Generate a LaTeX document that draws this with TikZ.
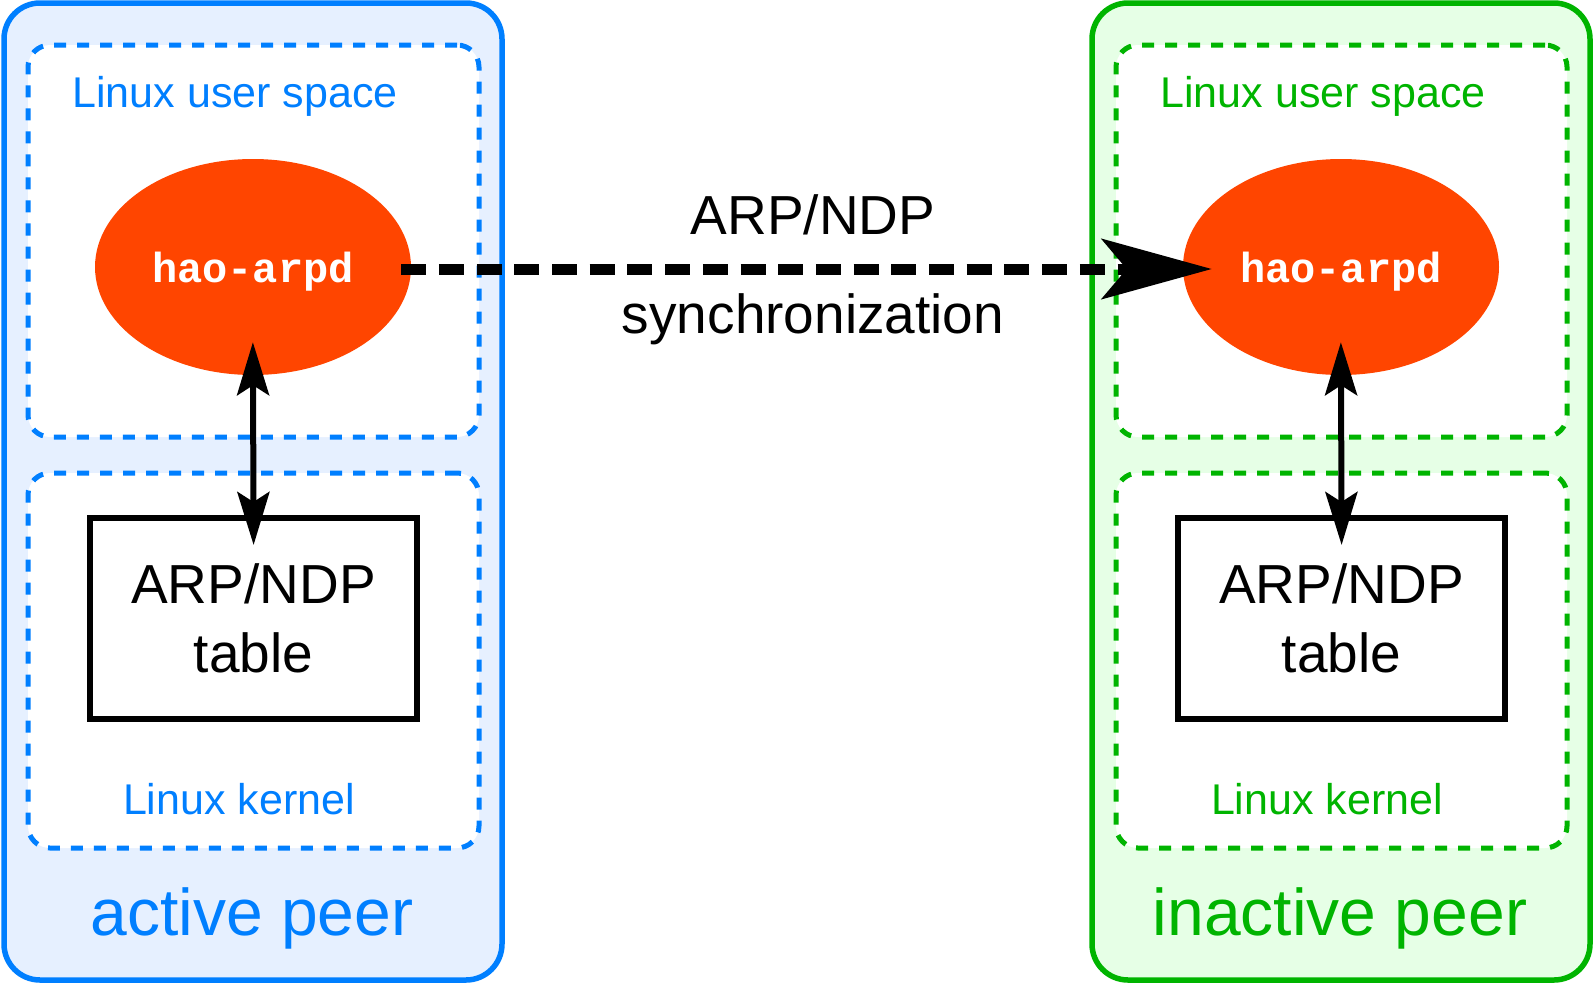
\documentclass[tikz,border=0pt]{standalone}
\usepackage{fontspec}
\setmainfont{Liberation Sans}
\newfontfamily\monofont{Liberation Mono}
\usepackage{tikz}
\usetikzlibrary{arrows.meta,shapes.geometric}

\definecolor{peerblue}{RGB}{0,127,255}
\definecolor{peerbluebg}{RGB}{230,240,255}
\definecolor{peergreen}{RGB}{0,180,0}
\definecolor{peergreenbg}{RGB}{230,255,230}
\definecolor{daemonred}{RGB}{255,69,0}

\begin{document}
\begin{tikzpicture}[x=1pt,y=-1pt]
        \tikzstyle{peer} = [draw, line width=5.5pt, rounded corners=36pt, minimum width=498pt, minimum height=977pt, inner sep=0pt]
        \tikzstyle{layer} = [draw, fill=white, line width=5pt, dash pattern=on 12pt off 11pt, rounded corners=22pt, minimum width=451pt, inner sep=0pt]
        \tikzstyle{daemon} = [ellipse, fill=daemonred, text=white, minimum width=316pt, minimum height=216pt, inner sep=0pt, text depth=0pt, font=\monofont\bfseries\fontsize{42}{42}\selectfont]
        \tikzstyle{arptable} = [draw, line width=6pt, minimum width=327pt, minimum height=201pt, align=center, font=\fontsize{55}{69}\selectfont]
        \tikzstyle{vert} = [line width=6pt, {Stealth[length=53pt,width=32pt,inset=10pt]}-{Stealth[length=53pt,width=32pt,inset=10pt]}, shorten <=-30pt, shorten >=-33pt]
        \useasboundingbox (0,0) rectangle (1593,986);
        \foreach \n/\x/\c/\bg/\lbl in {a/253/peerblue/peerbluebg/active peer, b/1341/peergreen/peergreenbg/inactive peer} {
            \node[peer, draw=\c, fill=\bg] (peer\n) at (\x,491.5) {};
            \node[layer, draw=\c, minimum height=392pt] (user\n) at (\x+0.5,241) {};
            \node[layer, draw=\c, minimum height=375pt] (kern\n) at (\x+0.5,660.5) {};
            \node[anchor=base, text=\c, font=\fontsize{43}{43}\selectfont] (userlbl\n) at (\x-18,107) {Linux user space};
            \node[anchor=base, text=\c, font=\fontsize{43}{43}\selectfont] (kernlbl\n) at (\x-14,814) {Linux kernel};
            \node[anchor=base, text=\c, font=\fontsize{66}{66}\selectfont] (peerlbl\n) at (\x-1,935) {\lbl};
            \node[daemon] (arpd\n) at (\x,267) {hao-arpd};
            \node[arptable] (tbl\n) at (\x+0.5,618.5) {ARP/NDP\\table};
            \draw[vert] (tbl\n.north) -- (arpd\n.south);
        }
        \node[align=center, font=\fontsize{55}{99}\selectfont] (synclbl) at (813,269.5) {ARP/NDP\\synchronization};
        \draw[line width=11pt, dash pattern=on 25pt off 12.7pt, -{Stealth[length=110pt,width=60pt,inset=25pt]}, shorten <=-10pt, shorten >=-29pt]
            ([yshift=-2pt]arpda.east) -- ([yshift=-2pt]arpdb.west);
    \end{tikzpicture}
\end{document}
